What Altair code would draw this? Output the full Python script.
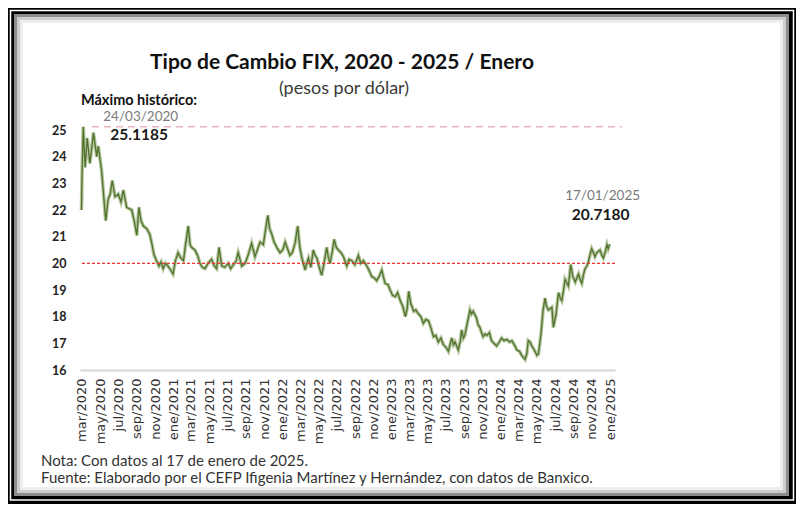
import altair as alt
import pandas as pd

# ---------------- data ----------------
fechas = [
    "2020-03-18", "2020-03-20", "2020-03-24", "2020-03-30", "2020-04-06", "2020-04-15", "2020-04-22", "2020-04-27",
    "2020-05-08", "2020-05-13", "2020-05-24", "2020-06-07", "2020-06-15", "2020-06-22", "2020-06-29", "2020-07-08",
    "2020-07-19", "2020-07-28", "2020-08-05", "2020-08-16", "2020-09-02", "2020-09-12", "2020-09-19", "2020-09-26",
    "2020-10-03", "2020-10-11", "2020-10-22", "2020-11-01", "2020-11-08", "2020-11-16", "2020-11-24", "2020-12-02",
    "2020-12-09", "2020-12-16", "2020-12-24", "2021-01-01", "2021-01-10", "2021-01-18", "2021-01-26", "2021-02-04",
    "2021-02-13", "2021-02-22", "2021-03-01", "2021-03-10", "2021-03-16", "2021-03-21", "2021-04-01", "2021-04-10",
    "2021-04-18", "2021-04-26", "2021-05-05", "2021-05-15", "2021-05-27", "2021-06-05", "2021-06-13", "2021-06-21",
    "2021-06-30", "2021-07-10", "2021-07-22", "2021-07-30", "2021-08-08", "2021-08-16", "2021-08-24", "2021-09-05",
    "2021-09-16", "2021-09-26", "2021-10-08", "2021-10-19", "2021-10-27", "2021-11-05", "2021-11-16", "2021-11-24",
    "2021-12-01", "2021-12-07", "2021-12-14", "2021-12-22", "2021-12-31", "2022-01-11", "2022-01-20", "2022-01-28",
    "2022-02-05", "2022-02-13", "2022-02-21", "2022-03-02", "2022-03-11", "2022-03-18", "2022-03-25", "2022-04-05",
    "2022-04-10", "2022-04-16", "2022-04-24", "2022-05-02", "2022-05-08", "2022-05-14", "2022-05-22", "2022-05-30",
    "2022-06-07", "2022-06-16", "2022-06-21", "2022-06-27", "2022-07-04", "2022-07-11", "2022-07-18", "2022-07-25",
    "2022-08-03", "2022-08-11", "2022-08-22", "2022-08-30", "2022-09-08", "2022-09-18", "2022-09-30", "2022-10-08",
    "2022-10-17", "2022-10-28", "2022-11-06", "2022-11-14", "2022-11-22", "2022-11-30", "2022-12-08", "2022-12-17",
    "2022-12-28", "2023-01-07", "2023-01-14", "2023-01-22", "2023-01-31", "2023-02-08", "2023-02-17", "2023-02-25",
    "2023-03-06", "2023-03-12", "2023-03-17", "2023-03-24", "2023-04-03", "2023-04-10", "2023-04-19", "2023-04-27",
    "2023-05-05", "2023-05-14", "2023-05-22", "2023-05-30", "2023-06-08", "2023-06-16", "2023-06-24", "2023-07-03",
    "2023-07-11", "2023-07-20", "2023-07-28", "2023-08-08", "2023-08-14", "2023-08-19", "2023-08-30", "2023-09-06",
    "2023-09-10", "2023-09-16", "2023-09-21", "2023-09-28", "2023-10-08", "2023-10-13", "2023-10-19", "2023-10-30",
    "2023-11-04", "2023-11-10", "2023-11-16", "2023-11-21", "2023-11-28", "2023-12-04", "2023-12-12", "2023-12-19",
    "2023-12-27", "2024-01-05", "2024-01-14", "2024-01-22", "2024-01-30", "2024-02-08", "2024-02-17", "2024-02-25",
    "2024-03-04", "2024-03-13", "2024-03-22", "2024-03-29", "2024-04-09", "2024-04-15", "2024-04-20", "2024-04-26",
    "2024-05-02", "2024-05-10", "2024-05-19", "2024-05-24", "2024-06-02", "2024-06-08", "2024-06-15", "2024-06-20",
    "2024-06-26", "2024-07-08", "2024-07-13", "2024-07-22", "2024-07-30", "2024-08-05", "2024-08-10", "2024-08-16",
    "2024-08-21", "2024-09-01", "2024-09-09", "2024-09-16", "2024-09-24", "2024-10-01", "2024-10-05", "2024-10-10",
    "2024-10-16", "2024-10-22", "2024-10-27", "2024-11-02", "2024-11-07", "2024-11-12", "2024-11-18", "2024-11-24",
    "2024-11-29", "2024-12-05", "2024-12-16", "2024-12-22", "2024-12-27", "2025-01-03", "2025-01-08", "2025-01-12",
    "2025-01-17",
]
tipo_cambio = [
    22.0, 23.4, 25.1185, 23.6, 24.7, 23.75, 24.4, 24.9,
    24.0, 24.4, 23.5, 21.6, 22.4, 22.6, 23.1, 22.5,
    22.6, 22.3, 22.75, 22.1, 22.0, 21.5, 21.05, 22.1,
    21.6, 21.4, 21.3, 21.1, 20.75, 20.3, 20.1, 19.9,
    20.05, 19.8, 20.0, 19.9, 19.75, 19.6, 20.1, 20.4,
    20.2, 20.1, 20.7, 21.4, 20.7, 20.6, 20.5, 20.3,
    20.0, 19.85, 19.8, 20.0, 20.15, 19.9, 19.8, 20.6,
    19.9, 19.85, 20.0, 19.8, 19.95, 20.05, 20.4, 19.9,
    20.0, 20.3, 20.75, 20.25, 20.5, 20.8, 20.7, 21.3,
    21.8, 21.3, 21.1, 20.8, 20.6, 20.4, 20.5, 20.8,
    20.55, 20.3, 20.4, 20.75, 21.4, 20.6, 20.2, 19.75,
    20.0, 20.2, 19.85, 20.5, 20.3, 20.2, 19.85, 19.55,
    20.0, 20.6, 20.25, 20.0, 20.4, 20.9, 20.6, 20.5,
    20.4, 20.25, 19.9, 20.15, 20.1, 19.95, 20.3, 20.0,
    20.1, 19.9, 19.7, 19.5, 19.45, 19.35, 19.5, 19.75,
    19.25, 19.2, 19.0, 18.8, 18.75, 18.9, 18.6, 18.4,
    18.0, 18.3, 18.95, 18.5, 18.2, 18.25, 18.1, 18.0,
    17.75, 17.9, 17.85, 17.6, 17.25, 17.3, 17.05, 17.2,
    16.95, 16.85, 16.7, 17.2, 16.95, 17.05, 16.75, 17.1,
    17.5, 17.2, 17.3, 17.7, 18.25, 18.1, 18.2, 17.95,
    17.7, 17.6, 17.4, 17.25, 17.35, 17.3, 17.4, 17.1,
    17.0, 16.9, 17.05, 17.2, 17.1, 17.15, 17.05, 17.1,
    16.95, 16.75, 16.7, 16.55, 16.4, 16.6, 17.1, 17.05,
    16.9, 16.75, 16.55, 16.6, 17.4, 18.2, 18.7, 18.4,
    18.25, 18.35, 17.6, 18.1, 18.9, 18.7, 18.6, 19.0,
    19.4, 19.15, 19.95, 19.5, 19.3, 19.5, 19.6, 19.4,
    19.25, 19.6, 19.8, 19.9, 20.05, 20.3, 20.55, 20.4,
    20.25, 20.4, 20.5, 20.3, 20.2, 20.45, 20.7, 20.55,
    20.718,
]

# tick label positions (every two months) and Spanish month abbreviations
tick_anios = [2020, 2020, 2020, 2020, 2020,
              2021, 2021, 2021, 2021, 2021, 2021,
              2022, 2022, 2022, 2022, 2022, 2022,
              2023, 2023, 2023, 2023, 2023, 2023,
              2024, 2024, 2024, 2024, 2024, 2024,
              2025]
tick_meses = [3, 5, 7, 9, 11,
              1, 3, 5, 7, 9, 11,
              1, 3, 5, 7, 9, 11,
              1, 3, 5, 7, 9, 11,
              1, 3, 5, 7, 9, 11,
              1]
meses_es = ["ene", "feb", "mar", "abr", "may", "jun", "jul", "ago", "sep", "oct", "nov", "dic"]
y_ticks = [16, 17, 18, 19, 20, 21, 22, 23, 24, 25]
nivel_referencia = 20
linea_max_ini = "2020-04-22"
linea_max_fin = "2025-02-28"

titulo = "Tipo de Cambio FIX, 2020 - 2025 / Enero"
subtitulo = "(pesos por dólar)"
etiqueta_max = "Máximo histórico:"
nota = "Nota: Con datos al 17 de enero de 2025."
fuente = "Fuente: Elaborado por el CEFP Ifigenia Martínez y Hernández, con datos de Banxico."

# ---------------- tables ----------------
df = pd.DataFrame({"fecha": pd.to_datetime(fechas), "tipo": tipo_cambio})
df_max = df.loc[[df["tipo"].idxmax()]]
df_last = df.iloc[[-1]]
df_ref = pd.DataFrame({"tipo": [nivel_referencia]})
df_max_line = pd.DataFrame({
    "fecha": pd.to_datetime([linea_max_ini]),
    "fecha_fin": pd.to_datetime([linea_max_fin]),
    "tipo": [df_max["tipo"].iloc[0]],
})
one = pd.DataFrame({"k": [0]})

W, H = 535, 248
FONT = "Lato"

x_scale = alt.Scale(domain=[alt.DateTime(year=2020, month=3, date=13),
                            alt.DateTime(year=2025, month=2, date=4)])
y_scale = alt.Scale(domain=[16, 25.3], nice=False, zero=False)

month_arr = "[" + ",".join("'%s'" % m for m in meses_es) + "]"
x_axis = alt.Axis(
    values=[alt.DateTime(year=a, month=m, date=19) for a, m in zip(tick_anios, tick_meses)],
    labelExpr=month_arr + "[month(datum.value)] + '/' + year(datum.value)",
    labelAngle=270, labelFont="DejaVu Sans", labelFontSize=13, labelColor="#333333",
    labelPadding=8, labelOverlap=False, labelFlush=False, labelBound=False,
    ticks=False, grid=False, domainColor="#d6d6d6", domainWidth=2, title=None, zindex=1,
)
y_axis = alt.Axis(
    values=y_ticks, domain=False, ticks=False, grid=False, labelOverlap=False,
    labelFont=FONT, labelFontWeight="bold", labelFontSize=12.5, labelColor="#222222",
    labelPadding=14, title=None, zindex=1,
)

X = alt.X("fecha:T", scale=x_scale, axis=x_axis)
Y = alt.Y("tipo:Q", scale=y_scale, axis=y_axis)


def frame_rect(x1, x2, y1, y2, **kw):
    return alt.Chart(one).mark_rect(**kw).encode(
        x=alt.value(x1), x2=alt.value(x2), y=alt.value(y1), y2=alt.value(y2))


# decorative picture frame (black border, thin white line, soft inner shadow)
frame_line = frame_rect(-69.5, 713.5, -111.5, 378, fillOpacity=0, stroke="white", strokeWidth=1.5)
interior = frame_rect(-66, 709, -108, 374, color="white")
shadow1 = frame_rect(-64.5, 707.5, -106.5, 372.5, fillOpacity=0, stroke="#8c8c8c", strokeWidth=3)
shadow2 = frame_rect(-61.5, 704.5, -103.5, 369.5, fillOpacity=0, stroke="#cdcdcd", strokeWidth=3)
shadow3 = frame_rect(-58.5, 701.5, -100.5, 366.5, fillOpacity=0, stroke="#eeeeee", strokeWidth=3)

rule20 = alt.Chart(df_ref).mark_rule(color="#f0332e", strokeDash=[3, 2], strokeWidth=1.4).encode(y=Y)

rule_max = alt.Chart(df_max_line).mark_rule(color="#e6b5bd", strokeDash=[7, 5], strokeWidth=1.5).encode(
    x=X, x2="fecha_fin:T", y=Y)

halo = alt.Chart(df).mark_line(color="#adc194", strokeWidth=3.6, opacity=0.9).encode(x=X, y=Y)
core = alt.Chart(df).mark_line(color="#52722f", strokeWidth=1.3).encode(x=X, y=Y)

max_date = alt.Chart(df_max).mark_text(
    align="left", baseline="alphabetic", font=FONT, fontSize=13.5, color="#7a7a7a", dx=20, dy=-6
).encode(x=X, y=Y, text=alt.Text("fecha:T", format="%d/%m/%Y"))
max_val = alt.Chart(df_max).mark_text(
    align="left", baseline="alphabetic", font=FONT, fontSize=15.5, fontWeight="bold", color="#1a1a1a", dx=27, dy=13
).encode(x=X, y=Y, text=alt.Text("tipo:Q", format=".4f"))
last_date = alt.Chart(df_last).mark_text(
    align="center", baseline="alphabetic", font=FONT, fontSize=13.5, color="#7a7a7a", dx=-7, dy=-44
).encode(x=X, y=Y, text=alt.Text("fecha:T", format="%d/%m/%Y"))
last_val = alt.Chart(df_last).mark_text(
    align="center", baseline="alphabetic", font=FONT, fontSize=15.5, fontWeight="bold", color="#1a1a1a", dx=-9, dy=-24
).encode(x=X, y=Y, text=alt.Text("tipo:Q", format=".4f"))


def label(txt, x, y, **kw):
    return alt.Chart(one).mark_text(baseline="alphabetic", font=FONT, **kw).encode(
        x=alt.value(x), y=alt.value(y), text=alt.value(txt))


t_title = label(titulo, 262, -53, align="center", fontSize=21, fontWeight="bold", color="#111111")
t_sub = label(subtitulo, 264, -28, align="center", fontSize=18, color="#3a3a3a")
t_max = label(etiqueta_max, 1, -17, align="left", fontSize=14.5, fontWeight="bold", color="#111111")
t_nota = label(nota, -39, 344, align="left", fontSize=15, color="#333333")
t_fuente = label(fuente, -39, 361, align="left", fontSize=15, color="#333333")

chart = alt.layer(
    frame_line, interior, shadow1, shadow2, shadow3,
    rule_max, halo, core, rule20,
    max_date, max_val, last_date, last_val,
    t_title, t_sub, t_max, t_nota, t_fuente,
).properties(
    width=W, height=H,
    padding={"left": 72, "top": 114, "right": 181, "bottom": 134},
    autosize=alt.AutoSizeParams(type="none"),
    background="black",
).configure_view(strokeWidth=0)

chart.save("out.html", embed_options={"renderer": "svg", "actions": False})
